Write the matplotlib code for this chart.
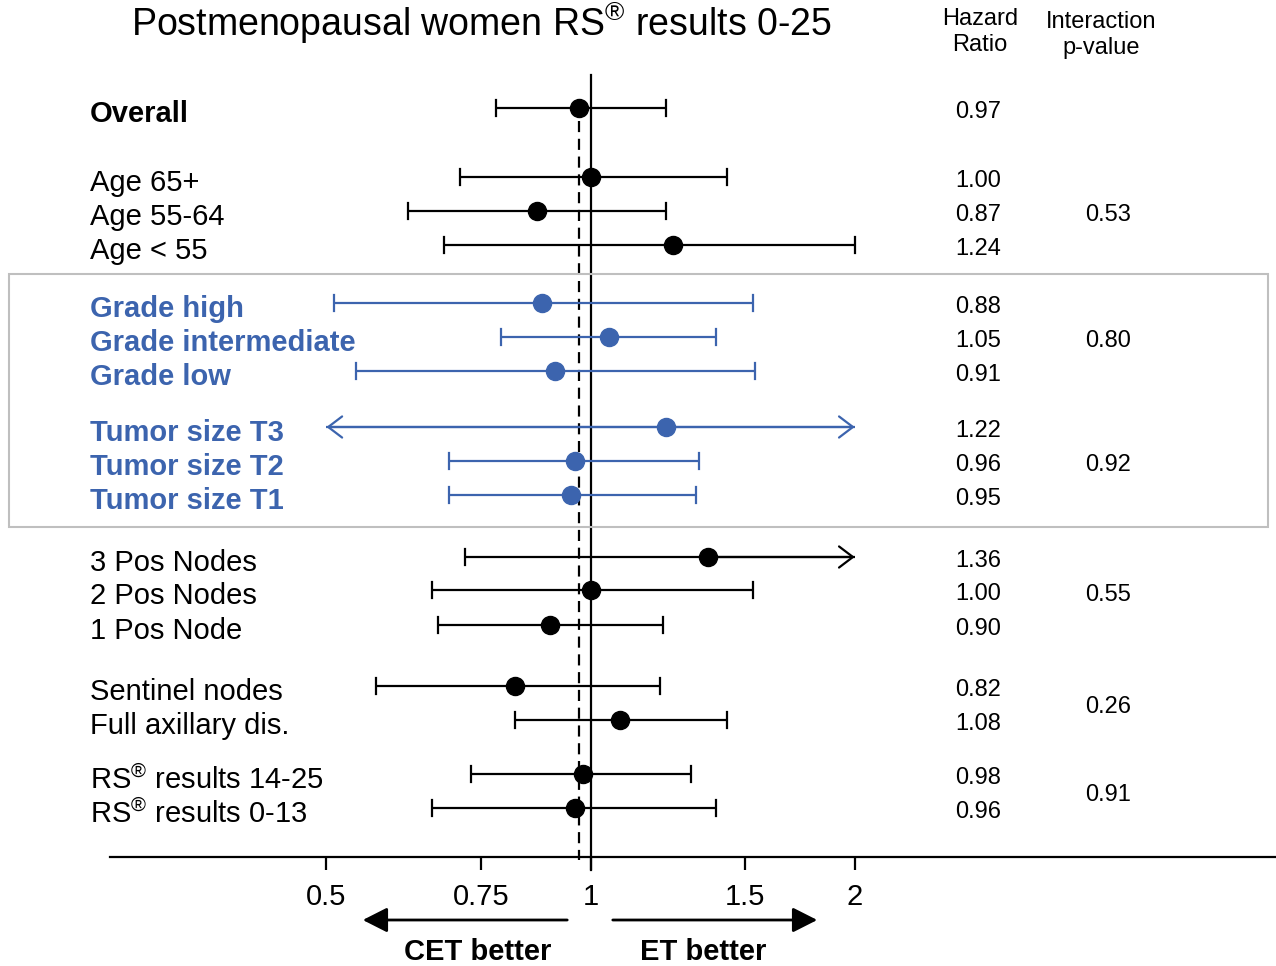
import matplotlib
matplotlib.use("Agg")
import matplotlib.pyplot as plt
from matplotlib.patches import Rectangle, FancyArrowPatch
import numpy as np

plt.rcParams['font.family'] = ['Liberation Sans', 'DejaVu Sans']
plt.rcParams['mathtext.fontset'] = 'custom'
plt.rcParams['mathtext.rm'] = 'Liberation Sans'

# ---------------- data ----------------
labels = ["Overall",
          "Age 65+", "Age 55-64", "Age < 55",
          "Grade high", "Grade intermediate", "Grade low",
          "Tumor size T3", "Tumor size T2", "Tumor size T1",
          "3 Pos Nodes", "2 Pos Nodes", "1 Pos Node",
          "Sentinel nodes", "Full axillary dis.",
          r"RS$^{\circledR}$ results 14-25", r"RS$^{\circledR}$ results 0-13"]
hr = [0.97, 1.00, 0.87, 1.24, 0.88, 1.05, 0.91, 1.22, 0.96, 0.95,
      1.36, 1.00, 0.90, 0.82, 1.08, 0.98, 0.96]
ci_low = [0.78, 0.71, 0.62, 0.68, 0.51, 0.79, 0.54, 0.50, 0.69, 0.69,
          0.72, 0.66, 0.67, 0.57, 0.82, 0.73, 0.66]
ci_high = [1.22, 1.43, 1.22, 2.00, 1.53, 1.39, 1.54, 2.00, 1.33, 1.32,
           2.00, 1.53, 1.21, 1.20, 1.43, 1.30, 1.39]
low_arrow = [False]*7 + [True] + [False]*9
high_arrow = [False, False, False, False, False, False, False, True, False, False,
              True, False, False, False, False, False, False]
highlight = [False]*4 + [True]*6 + [False]*7
bold = [True] + [False]*3 + [True]*6 + [False]*7
hr_text = ["0.97", "1.00", "0.87", "1.24", "0.88", "1.05", "0.91", "1.22",
           "0.96", "0.95", "1.36", "1.00", "0.90", "0.82", "1.08", "0.98", "0.96"]
# interaction p-values per group: (first row, last row, value)
groups = [(1, 3, "0.53"), (4, 6, "0.80"), (7, 9, "0.92"), (10, 12, "0.55"),
          (13, 14, "0.26"), (15, 16, "0.91")]
overall_hr = 0.97
xticks = [0.5, 0.75, 1, 1.5, 2]
xticklabels = ["0.5", "0.75", "1", "1.5", "2"]

# ---------------- layout (pixel rows) ----------------
row_y = [108, 177, 211, 245, 303, 337, 371, 427, 461, 495,
         557, 590, 625, 686, 720, 774, 808]

W, H = 1276, 966
fig = plt.figure(figsize=(W/100, H/100), dpi=100)
ax_bottom_px, ax_top_px = 857, 40
ax = fig.add_axes([110/W, (H-ax_bottom_px)/H, (W-110)/W, (ax_bottom_px-ax_top_px)/H])
ax.set_xscale('log')
ax.set_xlim(0.2834, 6.04)
ax.set_ylim(ax_bottom_px, ax_top_px)

BLUE = '#3C64AE'
BLACK = 'black'

# reference lines
ax.plot([1, 1], [75, 870], color=BLACK, lw=1.6, clip_on=False, zorder=1)
ax.plot([overall_hr, overall_hr], [121, 860], color=BLACK, lw=1.6,
        dashes=(5, 3), clip_on=False, zorder=1)

for i in range(len(hr)):
    c = BLUE if highlight[i] else BLACK
    y = row_y[i]
    ax.plot([ci_low[i], ci_high[i]], [y, y], color=c, lw=1.6, zorder=2,
            solid_capstyle='butt')
    for val, arr in ((ci_low[i], low_arrow[i]), (ci_high[i], high_arrow[i])):
        if arr:
            ax.annotate('', xy=(val, y), xytext=(hr[i], y),
                        arrowprops=dict(arrowstyle='->,head_length=0.5,head_width=0.38',
                                        color=c, lw=1.6, mutation_scale=20,
                                        shrinkA=0, shrinkB=0), zorder=2)
        else:
            ax.plot([val, val], [y-8, y+8], color=c, lw=1.6, zorder=2)
    ax.plot(hr[i], y, 'o', color=c, markersize=13, zorder=3)
    ax.text(90/W, 1 - (y+6)/H, labels[i], transform=fig.transFigure,
            fontsize=21, color=c, fontweight='bold' if bold[i] else 'normal',
            ha='left', va='center')
    ax.text(978/W, 1 - (y+4)/H, hr_text[i], transform=fig.transFigure,
            fontsize=17, ha='center', va='center')

for a, b, p in groups:
    yc = (row_y[a] + row_y[b]) / 2 + 4
    fig.text(1108/W, 1 - yc/H, p, fontsize=17, ha='center', va='center')

# highlight box
fig.add_artist(Rectangle((9/W, (H-527)/H), 1259/W, 253/H, transform=fig.transFigure,
                         fill=False, edgecolor='#BFBFBF', lw=1.5))

# axes styling
for s in ['top', 'right', 'left']:
    ax.spines[s].set_visible(False)
ax.spines['bottom'].set_linewidth(1.6)
ax.set_yticks([])
ax.set_xticks(xticks)
ax.set_xticklabels(xticklabels)
ax.xaxis.set_minor_locator(matplotlib.ticker.NullLocator())
ax.tick_params(axis='x', length=9, width=1.6, pad=10, labelsize=21)

# headers and title
fig.text(481/W, 1 - 36/H, r"Postmenopausal women RS$^{\circledR}$ results 0-25",
         fontsize=27, ha='center', va='baseline')
fig.text(980/W, 1 - 32/H, "Hazard\nRatio", fontsize=17, ha='center', va='center',
         linespacing=1.2)
fig.text(1101/W, 1 - 35/H, "Interaction\np-value", fontsize=17, ha='center', va='center',
         linespacing=1.2)

# bottom arrows and labels
fig.add_artist(FancyArrowPatch(
    (570/W, 1-920/H), (360/W, 1-920/H), transform=fig.transFigure,
    arrowstyle='-|>,head_length=0.75,head_width=0.38', mutation_scale=20,
    color=BLACK, lw=2))
fig.add_artist(FancyArrowPatch(
    (610/W, 1-920/H), (820/W, 1-920/H), transform=fig.transFigure,
    arrowstyle='-|>,head_length=0.75,head_width=0.38', mutation_scale=20,
    color=BLACK, lw=2))
fig.text(478/W, 1 - 952/H, "CET better", fontsize=21, fontweight='bold',
         ha='center', va='center')
fig.text(703/W, 1 - 952/H, "ET better", fontsize=21, fontweight='bold',
         ha='center', va='center')

fig.savefig("out.png", dpi=100)
